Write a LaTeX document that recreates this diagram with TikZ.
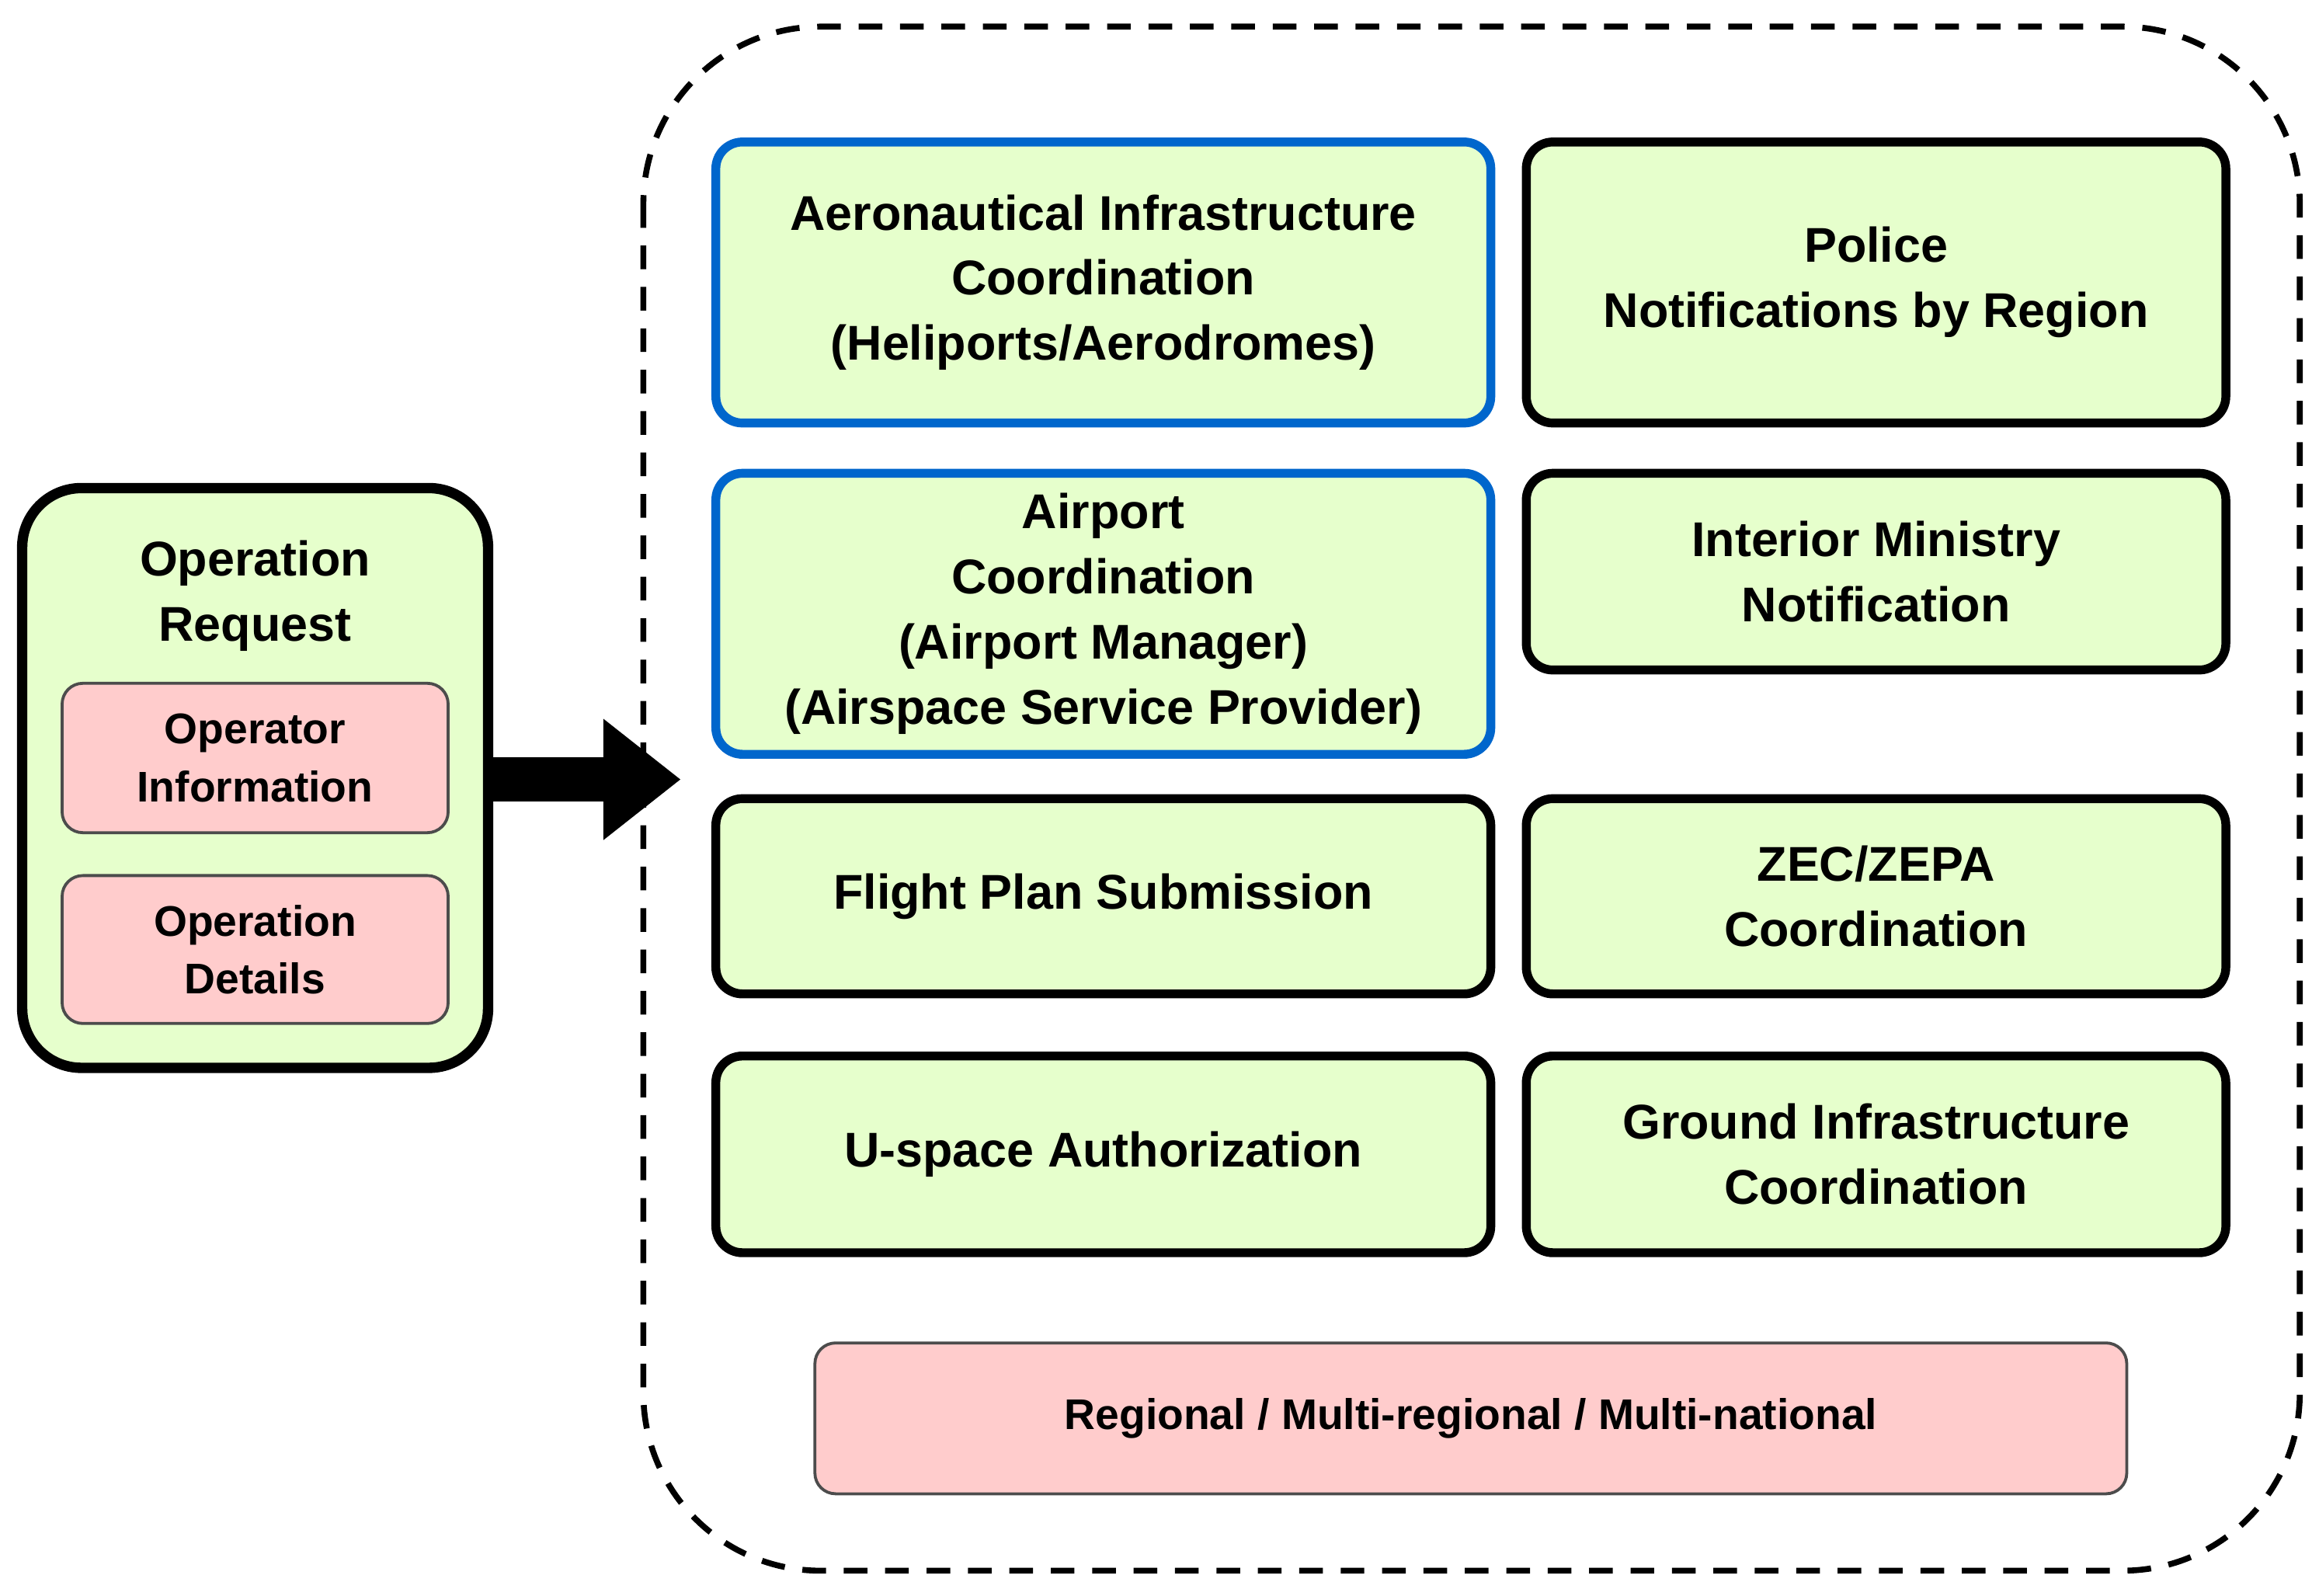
\documentclass[tikz,border=0pt]{standalone}
\usepackage{fontspec}
\setmainfont{Liberation Sans}
\begin{document}
\begin{tikzpicture}[x=1pt,y=-1pt,
  base/.style={draw, rounded corners=18pt, fill=green!10!yellow!15, line width=6pt, align=center, font=\fontsize{33}{44}\selectfont\bfseries},
  blue/.style={base, draw={rgb,255:red,0;green,102;blue,204}},
  blk/.style={base, draw=black},
  pink/.style={draw=black!70, line width=2pt, rounded corners=14pt, fill={rgb,255:red,255;green,204;blue,204}, align=center, font=\fontsize{29}{39}\selectfont\bfseries}]
\definecolor{lg}{RGB}{230,255,204}
\tikzset{base/.append style={fill=lg}}
\useasboundingbox (0,0) rectangle (1568,1079);
\draw[line width=4pt, dash pattern=on 16pt off 12pt, rounded corners=120pt] (435,18) rectangle (1555,1062);
\node[draw, line width=7pt, fill=lg, rounded corners=40pt, minimum width=315pt, minimum height=392pt] (req) at (172.5,526) {};
\node[font=\fontsize{33}{44}\selectfont\bfseries, align=center] (reqt) at (172.5,403) {Operation\\Request};
\node[pink, minimum width=261pt, minimum height=101pt] (oi) at (172.5,512.5) {Operator\\Information};
\node[pink, minimum width=261pt, minimum height=100pt] (od) at (172.5,642) {Operation\\Details};
\coordinate (ae) at (460,527);
\fill (req.east |- 0,512) rectangle (410,542);
\fill (408,486) -- (ae) -- (408,568) -- cycle;
\node[blue, minimum width=524pt, minimum height=190pt] (a1) at (746,191) {Aeronautical Infrastructure\\Coordination\\(Heliports/Aerodromes)};
\node[blk, minimum width=473pt, minimum height=190pt] (b1) at (1268.5,191) {Police\\Notifications by Region};
\node[blue, minimum width=524pt, minimum height=190pt] (a2) at (746,415) {Airport\\Coordination\\(Airport Manager)\\(Airspace Service Provider)};
\node[blk, minimum width=473pt, minimum height=133pt] (b2) at (1268.5,386.5) {Interior Ministry\\Notification};
\node[blk, minimum width=524pt, minimum height=132pt] (a3) at (746,606) {Flight Plan Submission};
\node[blk, minimum width=473pt, minimum height=132pt] (b3) at (1268.5,606) {ZEC/ZEPA\\Coordination};
\node[blk, minimum width=524pt, minimum height=133pt] (a4) at (746,780.5) {U-space Authorization};
\node[blk, minimum width=473pt, minimum height=133pt] (b4) at (1268.5,780.5) {Ground Infrastructure\\Coordination};
\node[pink, minimum width=887pt, minimum height=102pt] (reg) at (994.5,959) {Regional / Multi-regional / Multi-national};
\end{tikzpicture}
\end{document}
